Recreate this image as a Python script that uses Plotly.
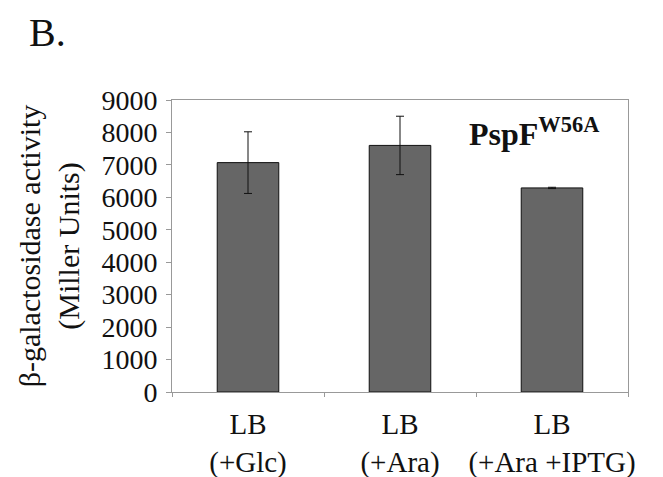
import plotly.graph_objects as go

categories = ["LB<br>(+Glc)", "LB<br>(+Ara)", "LB<br>(+Ara +IPTG)"]
activity = [7070, 7600, 6290]
errors = [950, 900, 20]
y_ticks = [0, 1000, 2000, 3000, 4000, 5000, 6000, 7000, 8000, 9000]

FONT = "Liberation Serif, Times New Roman, serif"

fig = go.Figure()
fig.add_trace(go.Bar(
    x=categories, y=activity,
    marker=dict(color="#666666", line=dict(color="#111111", width=1)),
    error_y=dict(type="data", array=errors, visible=True, color="#111111", thickness=1, width=4),
    width=0.405,
))

fig.update_layout(
    width=655, height=469,
    margin=dict(l=164, r=35, t=92, b=85, autoexpand=False),
    paper_bgcolor="white", plot_bgcolor="white",
    font=dict(family=FONT, color="#111111"),
    showlegend=False,
    xaxis=dict(
        showline=True, linecolor="#999999", linewidth=1, mirror=True,
        ticks="outside", ticklen=4, tickcolor="#999999", tickson="boundaries",
        tickfont=dict(size=29, family=FONT, color="#111111"),
        tickangle=0, automargin=False, ticklabelstandoff=6,
        showgrid=False,
    ),
    yaxis=dict(
        range=[0, 9000], tickvals=y_ticks,
        showline=True, linecolor="#999999", linewidth=1, mirror=True,
        ticks="outside", ticklen=5, tickcolor="#999999",
        tickfont=dict(size=28, family=FONT, color="#111111"),
        showgrid=False, zeroline=False, automargin=False, ticklabelstandoff=3,
        title=dict(text="β-galactosidase activity<br>(Miller Units)",
                   font=dict(size=30, family=FONT, color="#111111"), standoff=12),
    ),
    annotations=[
        dict(text="B.", xref="paper", yref="paper", x=-0.315, y=1.31,
             xanchor="left", yanchor="top", showarrow=False, borderpad=0,
             font=dict(size=40, family=FONT, color="#111111")),
        dict(text="<b>PspF<sup>W56A</sup></b>", xref="paper", yref="paper", x=0.94, y=0.965,
             xanchor="right", yanchor="top", showarrow=False,
             font=dict(size=32, family=FONT, color="#111111")),
    ],
)

fig.write_html("out.html")
